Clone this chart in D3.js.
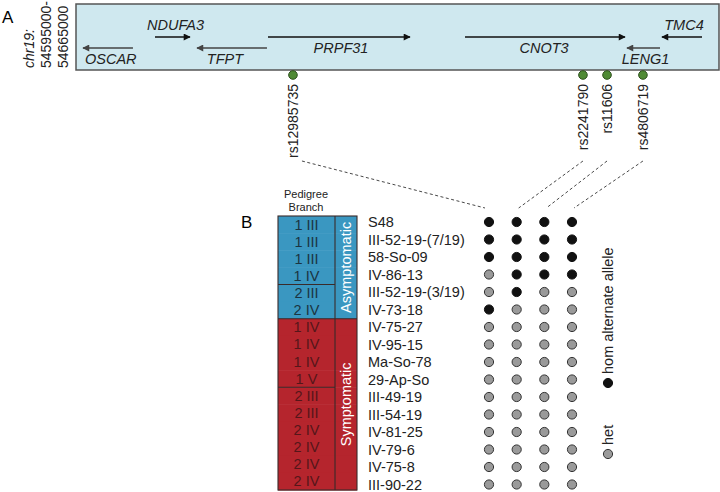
<!DOCTYPE html>
<html><head><meta charset="utf-8">
<script src="https://cdn.jsdelivr.net/npm/d3@7"></script>
<style>body{margin:0;background:#fff}svg{display:block}text{font-family:"Liberation Sans",Arial,sans-serif}</style>
</head><body><svg id="c" width="720" height="492"></svg>
<script>
// ---- data ----
const regionStart = 54595000, regionEnd = 54665000;
const geneNames   = ["OSCAR","NDUFA3","TFPT","PRPF31","CNOT3","LENG1","TMC4"];
const geneStarts  = [54595760,54603600,54608170,54615900,54637350,54654980,54658790];
const geneEnds    = [54601200,54607410,54615790,54631360,54654770,54658580,54663150];
const geneStrands = ["-","+","-","+","+","-","-"];
const geneTracks  = ["low","high","low","high","high","low","high"];
const geneLabelPos= ["below","above","below","below","below","below","above"];
const snpIds      = ["rs12985735","rs2241790","rs11606","rs4806719"];
const snpPositions= [54618620,54650190,54652810,54656720];
const sampleIds   = ["S48","III-52-19-(7/19)","58-So-09","IV-86-13","III-52-19-(3/19)","IV-73-18",
                     "IV-75-27","IV-95-15","Ma-So-78","29-Ap-So","III-49-19","III-54-19","IV-81-25","IV-79-6","IV-75-8","III-90-22"];
const branches    = ["1 III","1 III","1 III","1 IV","2 III","2 IV","1 IV","1 IV","1 IV","1 V","2 III","2 III","2 IV","2 IV","2 IV","2 IV"];
const status      = ["Asymptomatic","Asymptomatic","Asymptomatic","Asymptomatic","Asymptomatic","Asymptomatic",
                     "Symptomatic","Symptomatic","Symptomatic","Symptomatic","Symptomatic","Symptomatic","Symptomatic","Symptomatic","Symptomatic","Symptomatic"];
// genotype: 1 = hom alternate allele, 0 = het ; columns follow snpIds
const genotypes = [
  [1,1,1,1],[1,1,1,1],[1,1,1,1],[0,1,1,1],[0,1,0,0],[1,0,0,0],
  [0,0,0,0],[0,0,0,0],[0,0,0,0],[0,0,0,0],[0,0,0,0],[0,0,0,0],[0,0,0,0],[0,0,0,0],[0,0,0,0],[0,0,0,0]];
const legendLabels = ["hom alternate allele","het"];

// ---- layout ----
const svg = d3.select("#c");
const FONT = 14.5;
const gx = d3.scaleLinear().domain([regionStart, regionEnd]).range([76, 719]);
const trackY = {high:37, low:48};
const box = {x:76, y:4, w:643, h:66};

svg.append("defs").selectAll("marker").data([["ah-dark","#111"],["ah-grey","#444"]]).join("marker")
  .attr("id",d=>d[0]).attr("viewBox","0 0 10 10").attr("refX",9).attr("refY",5)
  .attr("markerWidth",9).attr("markerHeight",7).attr("markerUnits","userSpaceOnUse").attr("orient","auto")
  .append("path").attr("d","M0,0L10,5L0,10Z").attr("fill",d=>d[1]);

// panel labels
svg.append("text").attr("x",2).attr("y",23).attr("font-size",17).text("A");
svg.append("text").attr("x",241).attr("y",228).attr("font-size",17).text("B");

// region label
const regLines = [["chr19:",true],[regionStart+"-",false],[String(regionEnd),false]];
regLines.forEach((l,i)=>{
  svg.append("text").attr("transform",`translate(${34+i*17},68) rotate(-90)`)
    .attr("font-size",FONT-0.5).attr("font-style",l[1]?"italic":"normal").attr("fill","#222").text(l[0]);
});

svg.append("rect").attr("x",box.x).attr("y",box.y).attr("width",box.w).attr("height",box.h)
  .attr("fill","#cfe8ef").attr("stroke","#555").attr("stroke-width",1.5);

const genes = geneNames.map((n,i)=>({name:n,s:geneStarts[i],e:geneEnds[i],strand:geneStrands[i],track:geneTracks[i],lp:geneLabelPos[i]}));
const gg = svg.append("g");
gg.selectAll("line").data(genes).join("line")
  .attr("x1",d=>d.strand==="+"?gx(d.s):gx(d.e))
  .attr("x2",d=>d.strand==="+"?gx(d.e):gx(d.s))
  .attr("y1",d=>trackY[d.track]).attr("y2",d=>trackY[d.track])
  .attr("stroke",d=>d.track==="low"?"#444":"#111").attr("stroke-width",1.3)
  .attr("marker-end",d=>d.track==="low"?"url(#ah-grey)":"url(#ah-dark)");
const labelDx = {OSCAR:2,NDUFA3:3,TFPT:-7,PRPF31:2,CNOT3:-1,LENG1:2,TMC4:2};
gg.selectAll("text").data(genes).join("text")
  .attr("x",d=>d.name==="OSCAR"?gx(d.s)+labelDx[d.name]:(gx(d.s)+gx(d.e))/2+labelDx[d.name])
  .attr("text-anchor",d=>d.name==="OSCAR"?"start":"middle")
  .attr("y",d=>d.lp==="above"?trackY[d.track]-7:trackY[d.track]+16)
  .attr("font-size",FONT).attr("font-style","italic").attr("fill","#222").text(d=>d.name);

// SNPs
const snps = snpIds.map((id,i)=>({id,pos:snpPositions[i],i}));
svg.selectAll("circle.snp").data(snps).join("circle").attr("class","snp")
  .attr("cx",d=>gx(d.pos)).attr("cy",75).attr("r",4.3)
  .attr("fill","#4f8a34").attr("stroke","#2d4f1c").attr("stroke-width",1);
svg.selectAll("text.snp").data(snps).join("text").attr("class","snp")
  .attr("transform",d=>`translate(${gx(d.pos)+5},84) rotate(-90)`)
  .attr("text-anchor","end").attr("font-size",FONT-0.5).attr("fill","#222").text(d=>d.id);

// genotype grid scales
const colX = d3.scalePoint().domain(snpIds).range([489,572]);
const rowY = d3.scalePoint().domain(sampleIds).range([222,484.5]);
const dashStartDx = [9,0,0,0];
svg.selectAll("line.dash").data(snps).join("line").attr("class","dash")
  .attr("x1",d=>gx(d.pos)+dashStartDx[d.i]).attr("y1",161)
  .attr("x2",d=>colX(d.id)+(d.i===0?-4:2)).attr("y2",208)
  .attr("stroke","#333").attr("stroke-width",0.9).attr("stroke-dasharray","3,2.5");

const cells = [];
genotypes.forEach((r,ri)=>r.forEach((g,ci)=>cells.push({s:sampleIds[ri],snp:snpIds[ci],g})));
svg.selectAll("circle.gt").data(cells).join("circle").attr("class","gt")
  .attr("cx",d=>colX(d.snp)).attr("cy",d=>rowY(d.s)).attr("r",4.6)
  .attr("fill",d=>d.g?"#111":"#9a9a9a").attr("stroke",d=>d.g?"#111":"#333").attr("stroke-width",1);

svg.selectAll("text.sid").data(sampleIds).join("text").attr("class","sid")
  .attr("x",368).attr("y",d=>rowY(d)+5).attr("font-size",FONT).attr("fill","#222").text(d=>d);

// table
const tRow = d3.scaleBand().domain(d3.range(sampleIds.length)).range([216,490]);
const c1 = [278,335], c2 = [335,357];
const fillOf = s=>s==="Asymptomatic"?"#3a97c1":"#b5252d";
const textOf = s=>s==="Asymptomatic"?"#1b3442":"#55161a";
svg.append("text").attr("x",306).attr("y",198).attr("text-anchor","middle").attr("font-size",11).attr("fill","#222").text("Pedigree");
svg.append("text").attr("x",306).attr("y",211).attr("text-anchor","middle").attr("font-size",11).attr("fill","#222").text("Branch");

svg.selectAll("rect.cell").data(sampleIds).join("rect").attr("class","cell")
  .attr("x",c1[0]).attr("y",(d,i)=>tRow(i)).attr("width",c2[1]-c1[0]).attr("height",tRow.bandwidth()+0.5)
  .attr("fill",(d,i)=>fillOf(status[i]));
svg.selectAll("text.br").data(branches).join("text").attr("class","br")
  .attr("x",(c1[0]+c1[1])/2).attr("y",(d,i)=>tRow(i)+tRow.bandwidth()/2+5)
  .attr("text-anchor","middle").attr("font-size",FONT).attr("fill",(d,i)=>textOf(status[i])).text(d=>d);

// group boundaries
const lines = svg.append("g").attr("stroke","#3a2a2a").attr("stroke-width",1.1);
lines.append("rect").attr("x",c1[0]).attr("y",216).attr("width",c2[1]-c1[0]).attr("height",274).attr("fill","none");
lines.append("line").attr("x1",c1[1]).attr("x2",c1[1]).attr("y1",216).attr("y2",490);
for(let i=1;i<sampleIds.length;i++){
  const pb = branches[i-1].split(" ")[0], cb = branches[i].split(" ")[0];
  if(status[i]!==status[i-1]) lines.append("line").attr("x1",c1[0]).attr("x2",c2[1]).attr("y1",tRow(i)).attr("y2",tRow(i));
  else if(pb!==cb) lines.append("line").attr("x1",c1[0]).attr("x2",c1[1]).attr("y1",tRow(i)).attr("y2",tRow(i));
}
const groups = d3.groups(sampleIds.map((s,i)=>({i,st:status[i]})), d=>d.st);
groups.forEach(([st,rows])=>{
  const y0 = tRow(rows[0].i), y1 = tRow(rows[rows.length-1].i)+tRow.bandwidth();
  svg.append("text").attr("transform",`translate(${(c2[0]+c2[1])/2+5},${(y0+y1)/2}) rotate(-90)`)
    .attr("text-anchor","middle").attr("font-size",FONT).attr("fill","#fff").text(st);
});

// legend
const lg = [{t:legendLabels[0],g:1,y:383},{t:legendLabels[1],g:0,y:454}];
lg.forEach(d=>{
  svg.append("circle").attr("cx",608).attr("cy",d.y).attr("r",4.6)
    .attr("fill",d.g?"#111":"#9a9a9a").attr("stroke",d.g?"#111":"#333");
  svg.append("text").attr("transform",`translate(613,${d.y-9}) rotate(-90)`)
    .attr("font-size",FONT).attr("fill","#222").text(d.t);
});
</script></body></html>
